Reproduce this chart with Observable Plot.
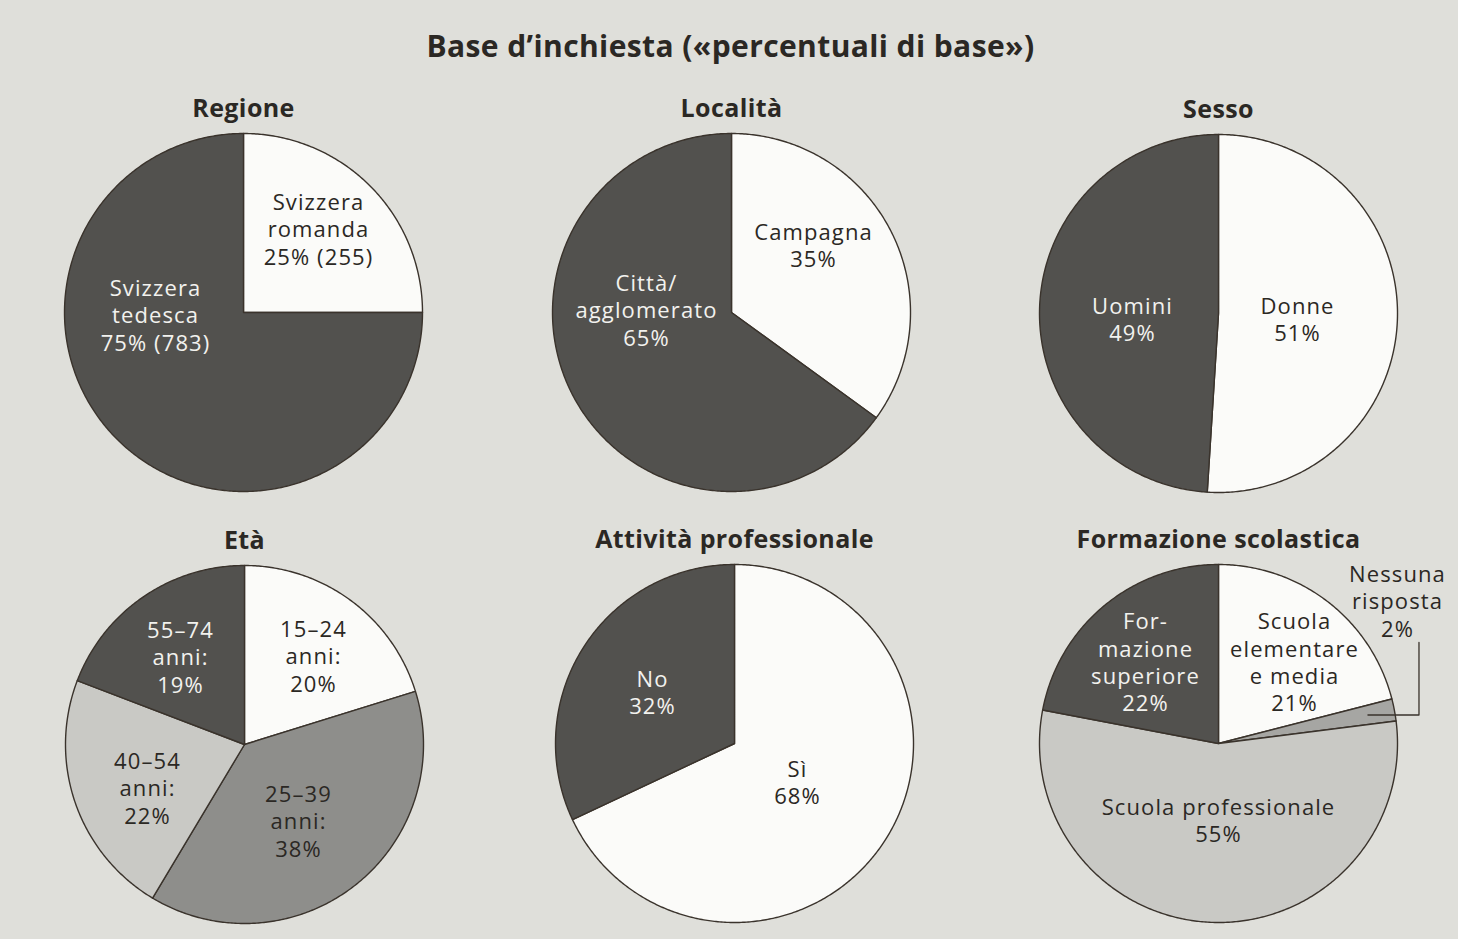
<!DOCTYPE html>
<html><head><meta charset="utf-8">
<script src="https://cdn.jsdelivr.net/npm/d3@7"></script>
<script src="https://cdn.jsdelivr.net/npm/@observablehq/plot@0.6"></script>
<style>
html,body{margin:0;padding:0;background:#dfdfda;overflow:hidden}
#chart{width:1458px;height:939px}
.pielabel text, .pielabel tspan{letter-spacing:1.1px}
.pietitle text{letter-spacing:0.4px}
</style></head><body><div id="chart"></div>
<script>
// ---------- DATA ----------
const mainTitle = "Base d’inchiesta («percentuali di base»)";
const chartTitles = ["Regione", "Località", "Sesso", "Età", "Attività professionale", "Formazione scolastica"];

const regioneLabels = ["Svizzera\nromanda\n25% (255)", "Svizzera\ntedesca\n75% (783)"];
const regioneValues = [25, 75];

const localitaLabels = ["Campagna\n35%", "Città/\nagglomerato\n65%"];
const localitaValues = [35, 65];

const sessoLabels = ["Donne\n51%", "Uomini\n49%"];
const sessoValues = [51, 49];

const etaLabels = ["15–24\nanni:\n20%", "25–39\nanni:\n38%", "40–54\nanni:\n22%", "55–74\nanni:\n19%"];
const etaValues = [20, 38, 22, 19];

const attivitaLabels = ["Sì\n68%", "No\n32%"];
const attivitaValues = [68, 32];

const formazioneLabels = ["Scuola\nelementare\ne media\n21%", "Nessuna\nrisposta\n2%", "Scuola professionale\n55%", "For-\nmazione\nsuperiore\n22%"];
const formazioneValues = [21, 2, 55, 22];

// ---------- STYLE ----------
const DARK = "#52514e", WHITE = "#fbfbf9", LIGHT = "#c9c9c5", MID = "#8e8e8b", MID2 = "#a6a6a3";
const sliceFills = [
  [WHITE, DARK],
  [WHITE, DARK],
  [WHITE, DARK],
  [WHITE, MID, LIGHT, DARK],
  [WHITE, DARK],
  [WHITE, MID2, LIGHT, DARK]
];
const INK = "#2b2824", PAPER = "#f2f2ee";

// ---------- LAYOUT ----------
const pieCenters = [[243, 312], [731, 312], [1218, 313], [244, 744], [734, 743], [1218, 743]];
const pieRadius = 179;
// label block centre offsets from pie centre (px)
const labelOffsets = [
  [[75, -84], [-88, 2]],
  [[82, -68], [-85, -3]],
  [[79, 5], [-86, 5]],
  [[69, -89], [54, 76], [-97, 43], [-64, -88]],
  [[63, 38], [-82, -52]],
  [[76, -82], [179, -143], [0, 76], [-73, -82]]
];
const leaderSlice = [5, 1]; // chart index, slice index with a leader line

// ---------- BUILD ----------
const charts = [
  [regioneLabels, regioneValues],
  [localitaLabels, localitaValues],
  [sessoLabels, sessoValues],
  [etaLabels, etaValues],
  [attivitaLabels, attivitaValues],
  [formazioneLabels, formazioneValues]
];
const pie = d3.pie().sort(null).value(d => d);
const polys = [], labels = [], titles = [];
charts.forEach(([labs, vals], ci) => {
  const [cx, cy] = pieCenters[ci];
  titles.push({x: cx, y: cy - 204, text: chartTitles[ci]});
  pie(vals).forEach((a, si) => {
    const id = ci + "-" + si;
    const fill = sliceFills[ci][si];
    polys.push({id, fill, x: cx, y: cy});
    const n = Math.max(2, Math.ceil((a.endAngle - a.startAngle) / 0.01));
    for (let k = 0; k <= n; k++) {
      const t = a.startAngle + (a.endAngle - a.startAngle) * k / n;
      polys.push({id, fill, x: cx + pieRadius * Math.sin(t), y: cy - pieRadius * Math.cos(t)});
    }
    const [dx, dy] = labelOffsets[ci][si];
    const onDark = fill === DARK;
    labels.push({x: cx + dx, y: cy + dy, text: labs[si], color: onDark ? PAPER : INK});
  });
});
// leader line for the small slice
const leader = [];
{
  const [ci, si] = leaderSlice;
  const [cx, cy] = pieCenters[ci];
  const a = pie(charts[ci][1])[si];
  const m = (a.startAngle + a.endAngle) / 2;
  const sx = cx + 0.85 * pieRadius * Math.sin(m), sy = cy - 0.85 * pieRadius * Math.cos(m);
  const ex = cx + 1.12 * pieRadius;
  const [ldx, ldy] = labelOffsets[ci][si];
  leader.push({x: sx, y: sy}, {x: ex, y: sy}, {x: ex, y: cy + ldy + 42});
}

const plot = Plot.plot({
  width: 1458, height: 939, margin: 0,
  x: {domain: [0, 1458], range: [0, 1458], axis: null},
  y: {domain: [0, 939], range: [0, 939], axis: null},
  color: {type: "identity"},
  style: {background: "transparent", fontFamily: "'Open Sans', sans-serif", color: INK},
  marks: [
    Plot.line(polys, {x: "x", y: "y", z: "id", fill: "fill", stroke: "#3a332c", strokeWidth: 1.4, strokeLinejoin: "round", curve: "linear-closed"}),
    Plot.line(leader, {x: "x", y: "y", stroke: "#3a332c", strokeWidth: 1.3}),
    Plot.text(labels, {x: "x", y: "y", text: "text", fill: "color", fontSize: 22, lineHeight: 1.24, lineAnchor: "middle", textAnchor: "middle", className: "pielabel"}),
    Plot.text(titles, {x: "x", y: "y", text: "text", fill: INK, fontSize: 25, fontWeight: "bold", lineAnchor: "middle", textAnchor: "middle", className: "pietitle"}),
    Plot.text([mainTitle], {x: () => 730, y: () => 47, text: d => d, fill: INK, fontSize: 30, fontWeight: "bold", lineAnchor: "middle", textAnchor: "middle", className: "pietitle"})
  ]
});
document.getElementById("chart").appendChild(plot);
</script></body></html>
